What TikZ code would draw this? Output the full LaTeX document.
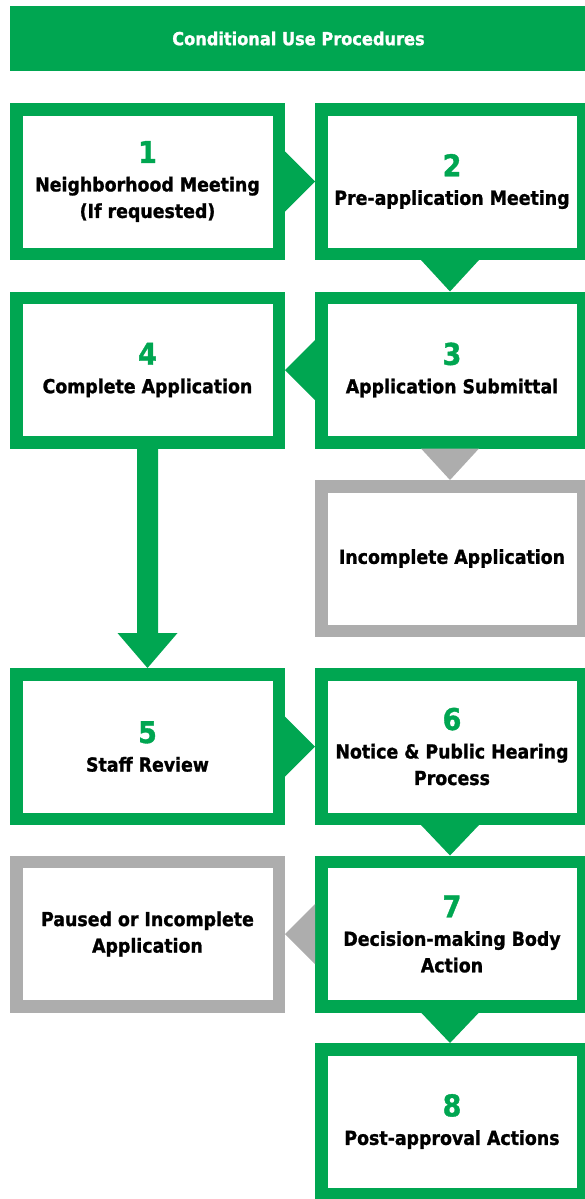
\documentclass[tikz,border=0pt]{standalone}
\usepackage{fontspec}
\setmainfont{DejaVu Sans Condensed}[BoldFeatures={FakeBold=1.2}]
\definecolor{cgreen}{RGB}{0,166,81}
\definecolor{cgray}{RGB}{173,173,173}
\newcommand\stepnum[1]{{\color{cgreen}\fontsize{30}{30}\selectfont #1}}
\begin{document}
\begin{tikzpicture}[x=1pt,y=-1pt,
  box/.style={draw=cgreen, line width=12.5pt, fill=white, align=center, inner sep=0pt,
    font=\bfseries\fontsize{19.3}{26.5}\selectfont, text=black},
  lbox/.style={box, minimum width=262.5pt, minimum height=144.5pt},
  rbox/.style={box, minimum width=261.5pt, minimum height=144.5pt},
  graybox/.style={draw=cgray},
  garrow/.style={fill=cgreen},
  gyarrow/.style={fill=cgray},
  titlebar/.style={fill=cgreen, minimum width=577pt, minimum height=65pt, inner sep=0pt,
    text=white, font=\bfseries\fontsize{18}{20}\selectfont}
]
\useasboundingbox (0,0) rectangle (585,1199);

\node[titlebar] (title) at (298.5,38.5) {Conditional Use Procedures};

\node[lbox] (b1) at (147.5,181.5) {\stepnum{1}\\[2pt]Neighborhood Meeting\\(If requested)};
\node[rbox] (b2) at (452,181.5) {\stepnum{2}\\[2pt]Pre-application Meeting};
\node[lbox] (b4) at (147.5,370) {\stepnum{4}\\[2pt]Complete Application};
\node[rbox] (b3) at (452,370) {\stepnum{3}\\[2pt]Application Submittal};
\node[rbox,graybox] (inc) at (452,558.5) {Incomplete Application};
\node[lbox] (b5) at (147.5,746.5) {\stepnum{5}\\[2pt]Staff Review};
\node[rbox] (b6) at (452,746.5) {\stepnum{6}\\[2pt]Notice \& Public Hearing\\Process};
\node[lbox,graybox] (pau) at (147.5,934) {Paused or Incomplete\\Application};
\node[rbox] (b7) at (452,934) {\stepnum{7}\\[2pt]Decision-making Body\\Action};
\node[rbox] (b8) at (452,1121.5) {\stepnum{8}\\[2pt]Post-approval Actions};

% arrows
\fill[garrow] ([yshift=30pt]b1.east) -- (b2.west) -- ([yshift=-30pt]b1.east) -- cycle;
\fill[garrow] ([xshift=-31pt]b2.south) -- ([xshift=-2pt]b3.north) -- ([xshift=27pt]b2.south) -- cycle;
\fill[garrow] ([yshift=30pt]b3.west) -- (b4.east) -- ([yshift=-30pt]b3.west) -- cycle;
\fill[gyarrow] ([xshift=-31pt]b3.south) -- ([xshift=-2pt]inc.north) -- ([xshift=27pt]b3.south) -- cycle;
\fill[garrow] ([xshift=-10.5pt]b4.south) -- ([xshift=-10.5pt,yshift=35pt]b5.north)
  -- ([xshift=-30pt,yshift=35pt]b5.north) -- (b5.north)
  -- ([xshift=30pt,yshift=35pt]b5.north) -- ([xshift=10.5pt,yshift=35pt]b5.north)
  -- ([xshift=10.5pt]b4.south) -- cycle;
\fill[garrow] ([yshift=30pt]b5.east) -- (b6.west) -- ([yshift=-30pt]b5.east) -- cycle;
\fill[garrow] ([xshift=-31pt]b6.south) -- ([xshift=-2pt]b7.north) -- ([xshift=27pt]b6.south) -- cycle;
\fill[gyarrow] ([yshift=30pt]b7.west) -- (pau.east) -- ([yshift=-30pt]b7.west) -- cycle;
\fill[garrow] ([xshift=-31pt]b7.south) -- ([xshift=-2pt]b8.north) -- ([xshift=27pt]b7.south) -- cycle;
\end{tikzpicture}
\end{document}
